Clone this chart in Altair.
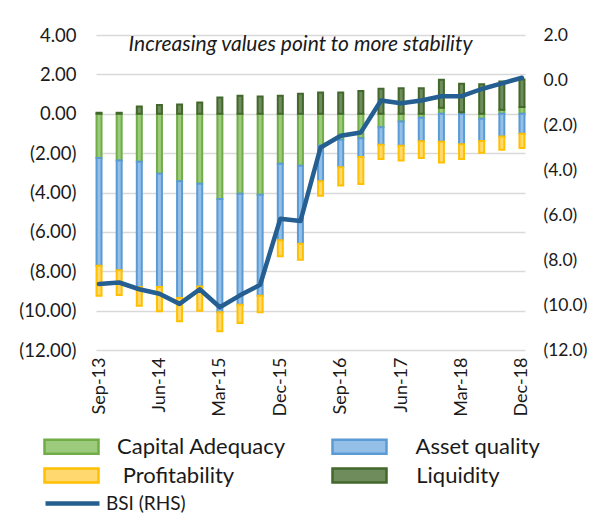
import altair as alt
import pandas as pd

quarters = ["Sep-13", "Dec-13", "Mar-14", "Jun-14", "Sep-14", "Dec-14", "Mar-15",
            "Jun-15", "Sep-15", "Dec-15", "Mar-16", "Jun-16", "Sep-16", "Dec-16",
            "Mar-17", "Jun-17", "Sep-17", "Dec-17", "Mar-18", "Jun-18", "Sep-18", "Dec-18"]
tick_quarters = ["Sep-13", "Jun-14", "Mar-15", "Dec-15", "Sep-16", "Jun-17", "Mar-18", "Dec-18"]

capital_adequacy = [-2.25, -2.37, -2.44, -3.05, -3.43, -3.55, -4.33, -4.06, -4.11, -2.54, -2.64,
                    -1.62, -1.32, -1.24, -0.68, -0.39, -0.20, 0.30, 0.08, -0.25, 0.20, 0.34]
asset_quality = [-5.47, -5.58, -6.36, -5.75, -5.93, -5.22, -5.75, -5.64, -5.13, -3.89, -3.96,
                 -1.81, -1.40, -0.96, -0.89, -1.23, -1.20, -1.42, -1.55, -1.13, -1.15, -1.02]
profitability = [-1.52, -1.25, -0.95, -1.23, -1.18, -1.23, -0.97, -0.93, -0.84, -0.81, -0.81,
                 -0.73, -0.93, -1.37, -0.73, -0.75, -0.85, -1.05, -0.75, -0.60, -0.68, -0.72]
liquidity = [0.05, 0.05, 0.37, 0.44, 0.47, 0.57, 0.83, 0.91, 0.88, 0.91, 1.02,
             1.08, 1.08, 1.15, 1.27, 1.30, 1.30, 1.43, 1.44, 1.50, 1.44, 1.40]
bsi = [-9.07, -9.00, -9.30, -9.50, -9.95, -9.30, -10.10, -9.57, -9.10, -6.17, -6.27,
       -3.00, -2.48, -2.33, -0.91, -1.03, -0.91, -0.72, -0.72, -0.40, -0.15, 0.10]

components = ["Capital Adequacy", "Asset quality", "Profitability", "Liquidity"]
stroke_colors = ["#70AD47", "#5B9BD5", "#FFC000", "#43682B"]
fill_colors = ["#9CCB7E", "#94BFE6", "#FFD870", "#6F8C5C"]

series = [capital_adequacy, asset_quality, profitability, liquidity]
rows = []
for k, (name, vals) in enumerate(zip(components, series)):
    for q, v in zip(quarters, vals):
        rows.append({"quarter": q, "component": name, "value": v, "order": k})
bars_df = pd.DataFrame(rows)
line_df = pd.DataFrame({"quarter": quarters, "bsi": bsi, "series": ["BSI (RHS)"] * len(quarters)})

FONT = "Lato"
TXT = "#1a1a1a"
rect_path = "M-2.5,-0.65H2.5V0.65H-2.5Z"
line_path = "M-2.5,0H2.5"
SYM = 466.6

x_enc = alt.X("quarter:O", sort=quarters, title=None,
              scale=alt.Scale(type="point", padding=0.15),
              axis=alt.Axis(values=tick_quarters, labelAngle=-90, labelAlign="right",
                            labelBaseline="middle", labelPadding=7, domain=False,
                            ticks=False, grid=False, labelFontSize=18))

bar_legend = alt.Legend(orient="none", legendX=-37, legendY=399, columns=2,
                        direction="horizontal",
                        columnPadding=41, rowPadding=4, title=None,
                        symbolType=rect_path, symbolSize=SYM, symbolStrokeWidth=2.5,
                        labelOffset=33, labelFontSize=22, labelFont=FONT, labelColor=TXT,
                        labelLimit=400,
                        labelExpr="datum.label == 'Capital Adequacy' ? datum.label : "
                                  "(datum.label == 'Profitability' ? '\u200b\u00a0' + datum.label : "
                                  "'\u200b\u00a0\u00a0' + datum.label)")

bars = alt.Chart(bars_df).mark_bar(size=5, strokeWidth=2).encode(
    x=x_enc,
    y=alt.Y("value:Q", stack="zero", title=None,
            scale=alt.Scale(domain=[-12, 4], nice=False, zero=False),
            axis=alt.Axis(orient="left", values=list(range(-12, 5, 2)), grid=True,
                          gridColor="#D9D9D9", gridWidth=1.5, domain=False, ticks=False,
                          labelPadding=20, labelFontSize=18.5,
                          labelExpr="datum.value < 0 ? '(' + format(-datum.value, '.2f') + ')' : format(datum.value, '.2f')")),
    fill=alt.Fill("component:N", scale=alt.Scale(domain=components, range=fill_colors), legend=bar_legend),
    stroke=alt.Stroke("component:N", scale=alt.Scale(domain=components, range=stroke_colors), legend=bar_legend),
    order=alt.Order("order:Q"),
)

line = alt.Chart(line_df).mark_line(strokeWidth=4.5, strokeJoin="round", strokeCap="round").encode(
    x=x_enc,
    y=alt.Y("bsi:Q", title=None,
            scale=alt.Scale(domain=[-12, 2], nice=False, zero=False),
            axis=alt.Axis(orient="right", values=list(range(-12, 3, 2)), grid=False,
                          domain=False, ticks=False, labelPadding=18, labelFontSize=17.5,
                          labelExpr="datum.value < 0 ? '(' + format(-datum.value, '.1f') + ')' : format(datum.value, '.1f')")),
    color=alt.Color("series:N", scale=alt.Scale(domain=["BSI (RHS)"], range=["#255E91"]),
                    legend=alt.Legend(orient="none", legendX=-37, legendY=455, title=None,
                                      symbolType=line_path, symbolSize=SYM, symbolStrokeWidth=4.5,
                                      labelOffset=20, labelFontSize=19, labelFont=FONT,
                                      labelColor=TXT)),
)

chart = alt.layer(bars, line).resolve_scale(y="independent").properties(
    width=429, height=315,
    autosize=alt.AutoSizeParams(type="none"),
    padding={"left": 88, "top": 27, "right": 64, "bottom": 163},
    title=alt.Title("Increasing values point to more stability", fontStyle="italic",
                    fontWeight="normal", fontSize=21, font=FONT, color=TXT,
                    anchor="middle", frame="group", offset=-29, dx=-10),
).configure_view(stroke=None).configure_axis(
    labelFont=FONT, labelColor=TXT
)

chart.save("out.html", embed_options={"renderer": "svg", "actions": False})
